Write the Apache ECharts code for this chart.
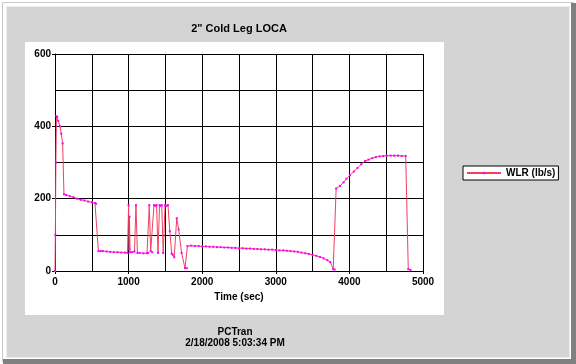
<!DOCTYPE html>
<html>
<head>
<meta charset="utf-8">
<script src="https://cdn.jsdelivr.net/npm/echarts@6/dist/echarts.min.js"></script>
<style>
html,body{margin:0;padding:0;background:#fff;}
#chart{width:576px;height:364px;}
</style>
</head>
<body>
<div id="chart"></div>
<script>
const titleText = '2" Cold Leg LOCA';
const xAxisName = 'Time (sec)';
const footerLine1 = 'PCTran';
const footerLine2 = '2/18/2008 5:03:34 PM';
const seriesName = 'WLR (lb/s)';

const times = [0,5,12,20,30,45,68,85,104,122,150,200,250,300,350,400,450,500,543,560,
  590,620,650,700,750,800,850,900,950,985,1000,1008,1012,1020,1050,1080,1100,1120,1150,1200,
  1250,1265,1281,1300,1320,1345,1365,1380,1400,1420,1435,1450,1470,1495,1515,1535,1560,1585,1600,1620,
  1654,1680,1720,1766,1790,1800,1850,1900,1950,2000,2050,2100,2150,2200,2250,2300,2350,2400,2450,2500,
  2550,2600,2650,2700,2750,2800,2850,2900,2950,3000,3050,3100,3150,3200,3250,3300,3350,3400,3450,3500,
  3550,3600,3650,3700,3740,3780,3800,3820,3872,3920,3960,4008,4060,4110,4160,4212,4260,4310,4360,4410,
  4460,4507,4560,4610,4660,4710,4765,4800,4830];
const wlr = [0,100,300,428,426,415,400,380,353,212,210,207,204,200,197,195,192,190,188,186,
  55,55,55,54,53,52,52,51,51,50,182,60,150,52,52,54,182,50,50,49,
  49,50,182,55,52,182,180,182,50,182,180,182,50,182,180,182,110,48,45,38,
  146,115,50,8,8,69,70,69,69,68,68,67,67,66,66,65,65,64,64,63,
  63,62,62,61,61,60,60,59,59,58,57,57,56,55,54,53,51,49,47,45,
  42,39,35,30,25,5,4,228,235,245,255,265,275,285,295,304,308,312,315,317,
  318,319,319,319,319,318,318,5,3];

const data = times.map((t, i) => [t, wlr[i]]);

const chart = echarts.init(document.getElementById('chart'), null, {renderer: 'canvas'});
const font = 'Arial, "Liberation Sans", sans-serif';
chart.setOption({
  backgroundColor: '#ffffff',
  animation: false,
  graphic: [
    {type: 'rect', z: -100, silent: true, shape: {x: 2.5, y: 2.5, width: 571, height: 359}, style: {fill: 'none', stroke: '#c8c8c8', lineWidth: 1}},
    {type: 'rect', z: -99, silent: true, shape: {x: 571, y: 3, width: 5, height: 361}, style: {fill: '#808080'}},
    {type: 'rect', z: -99, silent: true, shape: {x: 3, y: 359, width: 573, height: 5}, style: {fill: '#808080'}},
    {type: 'rect', z: -98, silent: true, shape: {x: 6.5, y: 6.5, width: 563, height: 351}, style: {fill: '#d4d4d4', stroke: '#ececec', lineWidth: 1}},
    {type: 'rect', z: -97, silent: true, shape: {x: 25, y: 42, width: 419, height: 273}, style: {fill: '#ffffff'}}
  ],
  title: [
    {text: titleText, left: 234, top: 18, textAlign: 'center', textStyle: {fontFamily: font, fontSize: 11, fontWeight: 'bold', color: '#000'}},
    {text: footerLine1, left: 235, top: 327, textAlign: 'center', padding: 0, textStyle: {fontFamily: font, fontSize: 10, fontWeight: 'bold', color: '#000'}},
    {text: footerLine2, left: 235, top: 338, textAlign: 'center', padding: 0, textStyle: {fontFamily: font, fontSize: 10, fontWeight: 'bold', color: '#000'}}
  ],
  legend: {
    data: [seriesName],
    left: 463, top: 166,
    orient: 'vertical',
    backgroundColor: '#ffffff',
    borderColor: '#000000', borderWidth: 1, borderRadius: 0,
    padding: [2, 3, 2, 3],
    itemWidth: 34, itemHeight: 3,
    textStyle: {fontFamily: font, fontSize: 10, fontWeight: 'bold', color: '#000'}
  },
  grid: {left: 55, right: 153, top: 54, bottom: 93, containLabel: false},
  xAxis: {
    type: 'value', min: 0, max: 5000, interval: 1000,
    name: xAxisName, nameLocation: 'middle', nameGap: 20,
    nameTextStyle: {fontFamily: font, fontSize: 10, fontWeight: 'bold', color: '#000'},
    axisLine: {show: true, lineStyle: {color: '#000', width: 1}},
    axisTick: {show: true, length: 3, lineStyle: {color: '#000'}},
    axisLabel: {margin: 6, fontFamily: font, fontSize: 10, fontWeight: 'bold', color: '#000', formatter: v => String(v)},
    splitLine: {show: true, lineStyle: {color: '#000', width: 1}},
    minorTick: {show: false, splitNumber: 2},
    minorSplitLine: {show: true, lineStyle: {color: '#000', width: 1}}
  },
  yAxis: {
    type: 'value', min: 0, max: 600, interval: 200,
    axisLine: {show: true, lineStyle: {color: '#000', width: 1}},
    axisTick: {show: true, length: 3, lineStyle: {color: '#000'}},
    axisLabel: {margin: 4, fontFamily: font, fontSize: 10, fontWeight: 'bold', color: '#000', formatter: v => String(v)},
    splitLine: {show: true, lineStyle: {color: '#000', width: 1}},
    minorTick: {show: false, splitNumber: 2},
    minorSplitLine: {show: true, lineStyle: {color: '#000', width: 1}}
  },
  series: [{
    name: seriesName,
    type: 'line',
    data: data,
    showSymbol: true, showAllSymbol: true,
    symbol: 'rect', symbolSize: 2,
    itemStyle: {color: '#ff00ff'},
    lineStyle: {color: '#f04060', width: 1},
    clip: true
  }]
});
</script>
</body>
</html>
